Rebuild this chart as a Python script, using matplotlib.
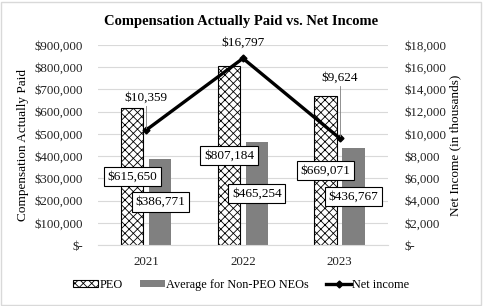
import matplotlib.pyplot as plt
import matplotlib.ticker as mticker
import numpy as np

plt.rcParams['font.family'] = ['Liberation Serif', 'DejaVu Serif']
plt.rcParams['hatch.linewidth'] = 0.6

years = ['2021', '2022', '2023']
peo = [615650, 807184, 669071]
neo = [386771, 465254, 436767]
net_income = [10359, 16797, 9624]
# vertical offset of the net income labels, in thousands
ni_label_off = [2880, 1440, 5400]

x = np.arange(len(years))
w = 0.23
off = 0.145

fig = plt.figure(figsize=(4.83, 3.06), dpi=100)
ax = fig.add_axes([0.203, 0.199, 0.6, 0.654])
ax2 = ax.twinx()

ax.bar(x - off, peo, w, color='white', edgecolor='black', hatch='xxxx', linewidth=0.8, zorder=2, label='PEO')
ax.bar(x + off, neo, w, color='#808080', zorder=2, label='Average for Non-PEO NEOs')
ax2.plot(x, net_income, color='black', lw=2.4, marker='D', ms=3.5, zorder=3, label='Net income')

ax.set_xlim(-0.5, 2.5)
ax.set_ylim(0, 900000)
ax2.set_ylim(0, 18000)
ax.set_yticks(np.arange(0, 900001, 100000))
ax2.set_yticks(np.arange(0, 18001, 2000))

def money(v, pos):
    return '$-' if v == 0 else '${:,.0f}'.format(v)

ax.yaxis.set_major_formatter(mticker.FuncFormatter(money))
ax2.yaxis.set_major_formatter(mticker.FuncFormatter(money))
ax.set_xticks(x)
ax.set_xticklabels(years)

ax.grid(axis='y', color='#d9d9d9', lw=0.8, zorder=0)
ax.set_axisbelow(True)
for a in (ax, ax2):
    for s in a.spines.values():
        s.set_visible(False)
    a.tick_params(length=0, labelsize=9.3, colors='#222222')
ax.spines['bottom'].set_visible(True)
ax.spines['bottom'].set_color('#d9d9d9')
ax.tick_params(axis='x', pad=8)
ax.tick_params(axis='y', pad=11)
ax2.tick_params(axis='y', pad=12)

ax.set_ylabel('Compensation Actually Paid', fontsize=9.5, labelpad=4)
ax2.set_ylabel('Net Income (in thousands)', fontsize=9.5, rotation=90, labelpad=2)
fig.text(0.5, 0.931, 'Compensation Actually Paid vs. Net Income', ha='center', va='center',
         fontsize=10.5, fontweight='bold')

box = dict(boxstyle='square,pad=0.28', fc='white', ec='black', lw=0.8)
for i in range(len(years)):
    ax.text(x[i] - off, peo[i] / 2, '${:,}'.format(peo[i]), ha='center', va='center', fontsize=9.5, bbox=box, zorder=5)
    ax.text(x[i] + off, neo[i] / 2, '${:,}'.format(neo[i]), ha='center', va='center', fontsize=9.5, bbox=box, zorder=5)

for i in range(len(years)):
    ty = net_income[i] + ni_label_off[i]
    ax2.text(x[i], ty, '${:,}'.format(net_income[i]), ha='center', va='center', fontsize=9.5, zorder=5)
    if ni_label_off[i] > 2000:
        ax2.plot([x[i], x[i]], [net_income[i] + 200, ty - 700], color='#7f7f7f', lw=0.6, zorder=4)

h1, l1 = ax.get_legend_handles_labels()
h2, l2 = ax2.get_legend_handles_labels()
fig.legend(h1 + h2, l1 + l2, loc='center', bbox_to_anchor=(0.5, 0.069), ncol=3, frameon=False,
           fontsize=8.8, handlelength=2.05, handleheight=0.6, columnspacing=1.4, handletextpad=0.1)

fig.patches.append(plt.Rectangle((0.002, 0.003), 0.994, 0.992, transform=fig.transFigure,
                                 fill=False, ec='#d9d9d9', lw=1))
fig.savefig('out.png', dpi=100)
